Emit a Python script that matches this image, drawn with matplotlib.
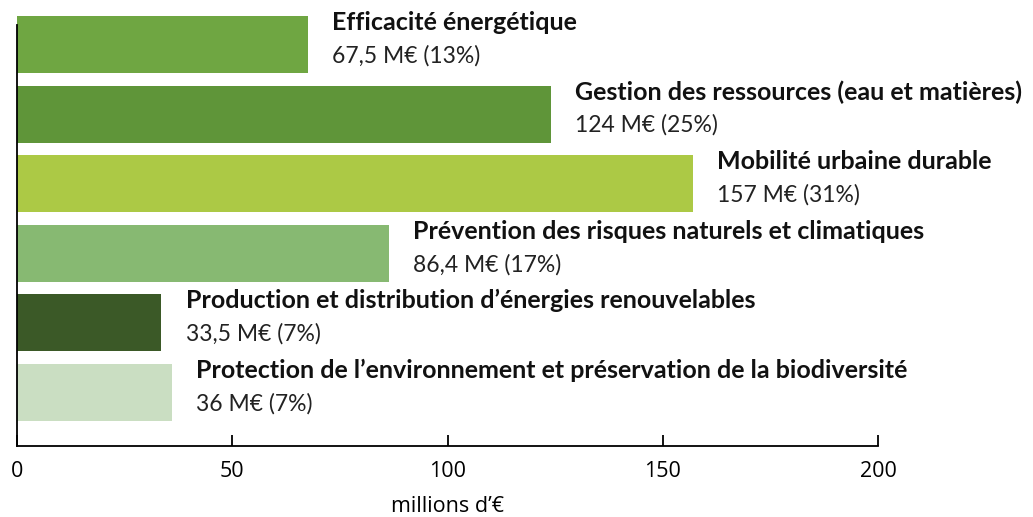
import matplotlib.pyplot as plt

categories = [
    "Efficacité énergétique",
    "Gestion des ressources (eau et matières)",
    "Mobilité urbaine durable",
    "Prévention des risques naturels et climatiques",
    "Production et distribution d’énergies renouvelables",
    "Protection de l’environnement et préservation de la biodiversité",
]
values = [67.5, 124, 157, 86.4, 33.5, 36]
value_labels = ["67,5 M€ (13%)", "124 M€ (25%)", "157 M€ (31%)",
                "86,4 M€ (17%)", "33,5 M€ (7%)", "36 M€ (7%)"]
colors = ["#6FA642", "#5F9539", "#ACC945", "#87B972", "#3B5927", "#CADEC2"]

fig = plt.figure(figsize=(10.33, 5.17), dpi=100)
ax = fig.add_axes([0.01646, 0.1373, 0.8335, 0.8143])

pos = range(len(values))
bars = ax.barh(pos, values, height=0.82, color=colors, clip_on=False, zorder=2)
ax.set_ylim(5.77, -0.28)
ax.set_xlim(0, 200)

for i, (v, name, lab) in enumerate(zip(values, categories, value_labels)):
    ax.annotate(name, (v, i), xytext=(17.5, 16), textcoords="offset points",
                ha="left", va="center", fontsize=18, fontweight="bold",
                family="Lato", color="#111111")
    ax.annotate(lab, (v, i), xytext=(17.5, -8), textcoords="offset points",
                ha="left", va="center", fontsize=16.5, family="Lato",
                color="#222222")

for s in ["top", "right"]:
    ax.spines[s].set_visible(False)
ax.spines["left"].set_linewidth(1.3)
ax.spines["bottom"].set_linewidth(1.3)
ax.set_yticks([])
ax.set_xticks([0, 50, 100, 150, 200])
ax.tick_params(axis="x", direction="in", length=8, width=1.3, pad=11,
               labelsize=15.5)
for t in ax.get_xticklabels():
    t.set_family("Open Sans")
ax.set_xlabel("millions d’€", fontsize=15.5, family="Open Sans", labelpad=10)

fig.savefig("out.png")
